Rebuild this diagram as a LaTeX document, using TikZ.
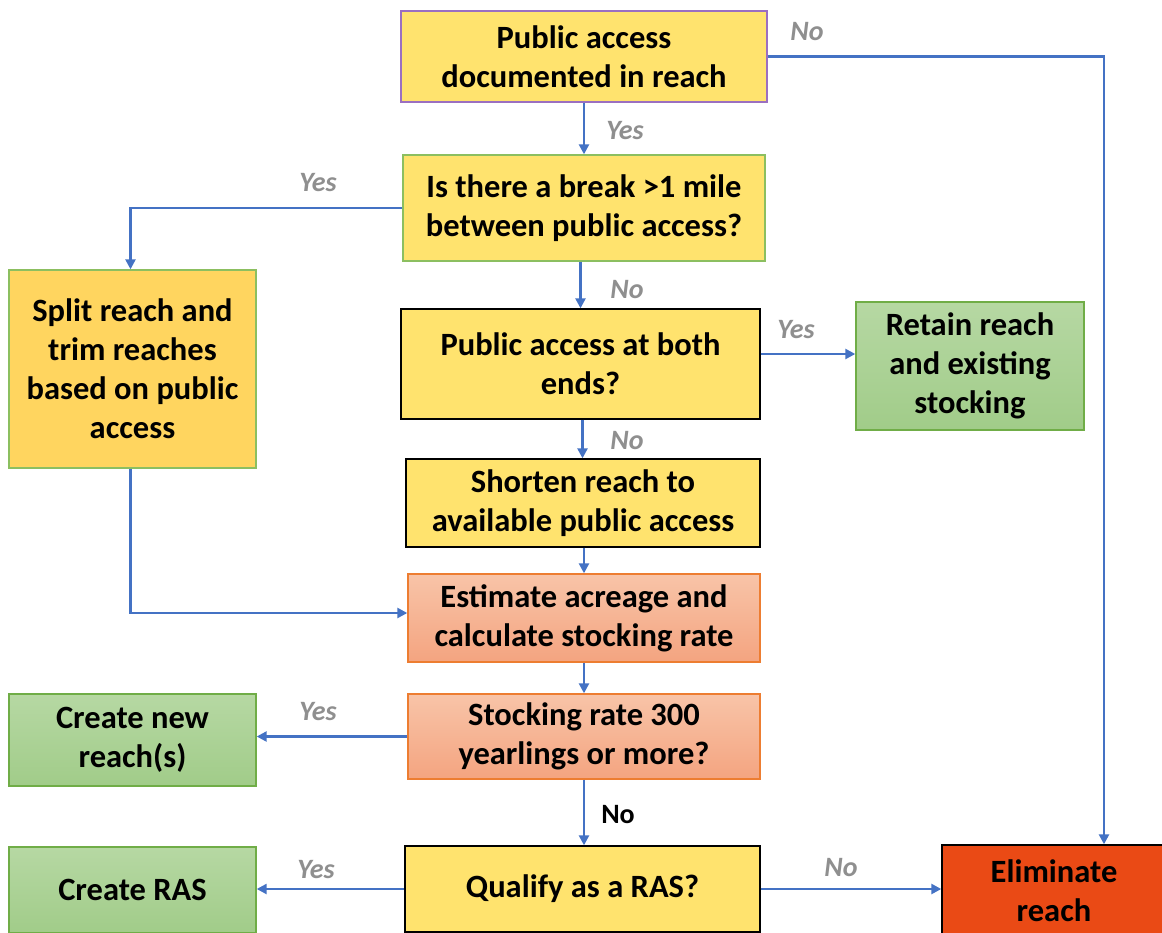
\documentclass[tikz,border=0pt]{standalone}
\usepackage{fontspec}
\setmainfont{Carlito}
\usetikzlibrary{arrows.meta}
\definecolor{arrowblue}{HTML}{4472C4}
\definecolor{yel}{HTML}{FFE36E}
\definecolor{yelor}{HTML}{FFD55F}
\definecolor{greenb}{HTML}{70AD47}
\definecolor{lgreenb}{HTML}{8CBF60}
\definecolor{gtop}{HTML}{B6D8A3}
\definecolor{gbot}{HTML}{A1CC89}
\definecolor{otop}{HTML}{F8C4A8}
\definecolor{obot}{HTML}{F4A480}
\definecolor{orb}{HTML}{ED7D31}
\definecolor{purb}{HTML}{9B6FC0}
\definecolor{elim}{HTML}{EA4A15}
\definecolor{lab}{HTML}{8F8F8F}
\tikzset{
  box/.style={draw, line width=1.4pt, inner sep=0pt, align=center,
    font=\bfseries\fontsize{32.5}{39}\selectfont},
  yelbox/.style={box, fill=yel},
  greenbox/.style={box, draw=greenb, top color=gtop, bottom color=gbot},
  orbox/.style={box, draw=orb, top color=otop, bottom color=obot},
  arr/.style={draw=arrowblue, line width=2.4pt, -{Triangle[length=10pt,width=10pt]}},
  lbl/.style={text=lab, font=\bfseries\itshape\fontsize{28}{32}\selectfont},
}
\begin{document}
\begin{tikzpicture}[x=1pt,y=-1pt]
\clip (0,0) rectangle (1162,932);
\fill[white] (0,0) rectangle (1162,932);
\node[yelbox, draw=purb, minimum width=366, minimum height=91] (n1) at (584,56.5) {Public access\\documented in reach};
\node[yelbox, draw=lgreenb, minimum width=362, minimum height=106] (n2) at (584,208) {Is there a break >1 mile\\between public access?};
\node[box, fill=yelor, draw=lgreenb, minimum width=247, minimum height=198] (n3) at (132.5,369) {Split reach and\\trim reaches\\based on public\\access};
\node[yelbox, minimum width=359, minimum height=110] (n4) at (580.5,364) {Public access at both\\ends?};
\node[greenbox, minimum width=228, minimum height=128] (n5) at (970,366) {Retain reach\\and existing\\stocking};
\node[yelbox, minimum width=354, minimum height=88] (n6) at (583,503) {Shorten reach to\\available public access};
\node[orbox, minimum width=352, minimum height=88] (n7) at (584,618) {Estimate acreage and\\calculate stocking rate};
\node[orbox, minimum width=352, minimum height=85] (n8) at (584,736.5) {Stocking rate 300\\yearlings or more?};
\node[greenbox, minimum width=247, minimum height=92] (n9) at (132.5,740) {Create new\\reach(s)};
\node[greenbox, minimum width=247, minimum height=86] (n10) at (132.5,890) {Create RAS};
\node[yelbox, minimum width=355, minimum height=86] (n11) at (582.5,889) {Qualify as a RAS?};
\node[box, fill=elim, minimum width=224, minimum height=92] (n12) at (1054,891) {Eliminate\\reach};
% connectors
\draw[arr] (n1.south) -- (n2.north);
\draw[arr] (n1.east) -| ([xshift=50pt]n12.north);
\draw[arr] (n2.west) -| ([xshift=-2pt]n3.north);
\draw[arr] (n4.north |- n2.south) -- (n4.north);
\draw[arr] ([yshift=10pt]n4.east) -- ([yshift=10pt]n4.east -| n5.west);
\draw[arr] ([xshift=2pt]n4.south) -- ([xshift=2pt]n4.south |- n6.north);
\draw[arr] (n7.north |- n6.south) -- (n7.north);
\draw[arr] ([xshift=-2pt]n3.south) |- ([yshift=5pt]n7.west);
\draw[arr] (n7.south) -- (n8.north);
\draw[arr] (n8.west) -- (n8.west -| n9.east);
\draw[arr] (n8.south) -- (n11.north -| n8.south);
\draw[arr] (n11.west) -- (n11.west -| n10.east);
\draw[arr] (n11.east) -- (n11.east -| n12.west);
% labels
\node[lbl] (l1) at (625,131) {Yes};
\node[lbl] (l2) at (807,32) {No};
\node[lbl] (l3) at (318,183) {Yes};
\node[lbl] (l4) at (627,290) {No};
\node[lbl] (l5) at (796,330) {Yes};
\node[lbl] (l6) at (627,441) {No};
\node[lbl] (l7) at (318,712) {Yes};
\node[font=\bfseries\fontsize{28}{32}\selectfont] (l8) at (618,815) {No};
\node[lbl] (l9) at (316,870) {Yes};
\node[lbl] (l10) at (841,868) {No};
\end{tikzpicture}
\end{document}
